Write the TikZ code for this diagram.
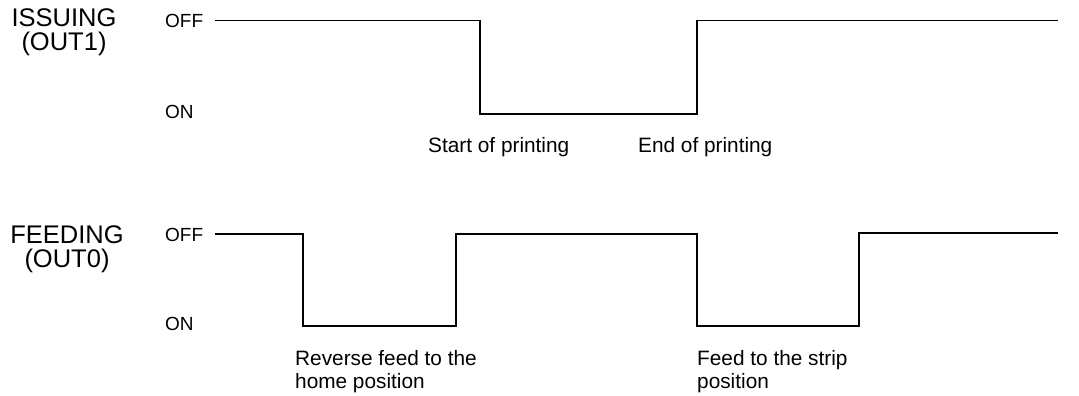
\documentclass[tikz,border=0pt]{standalone}
\usepackage{fontspec}
\setmainfont{Liberation Sans}
\begin{document}
\begin{tikzpicture}[x=1pt,y=-1pt,
  sig/.style={line width=1.6pt, line join=miter},
  signame/.style={anchor=base, align=center, inner sep=0pt, font=\fontsize{25.5}{24}\selectfont},
  level/.style={anchor=base west, inner sep=0pt, font=\fontsize{19}{22}\selectfont},
  event/.style={anchor=base west, align=left, inner sep=0pt, font=\fontsize{20.8}{23}\selectfont}]
\useasboundingbox (0,0) rectangle (1079,396);
% top signal
\node[signame] (issuing) at (64,51) {ISSUING\\(OUT1)};
\node[level] (off1) at (165,27.5) {OFF};
\node[level] (on1) at (165,118.5) {ON};
\draw[sig] (215,20.5) -- (480,20.5) -- (480,114) -- (697,114) -- (697,20.5) -- (1058,20.5);
\node[event] (start) at (428,152) {Start of printing};
\node[event] (end) at (638,152) {End of printing};
% bottom signal
\node[signame] (feeding) at (67,267) {FEEDING\\(OUT0)};
\node[level] (off2) at (165,241) {OFF};
\node[level] (on2) at (165,330) {ON};
\draw[sig] (215,234) -- (303,234) -- (303,326) -- (456,326) -- (456,234) -- (697,234) -- (697,326) -- (859,326) -- (859,232.7) -- (1058,232.7);
\node[event] (reverse) at (295,388) {Reverse feed to the\\home position};
\node[event] (strip) at (697,388) {Feed to the strip\\position};
\end{tikzpicture}
\end{document}
